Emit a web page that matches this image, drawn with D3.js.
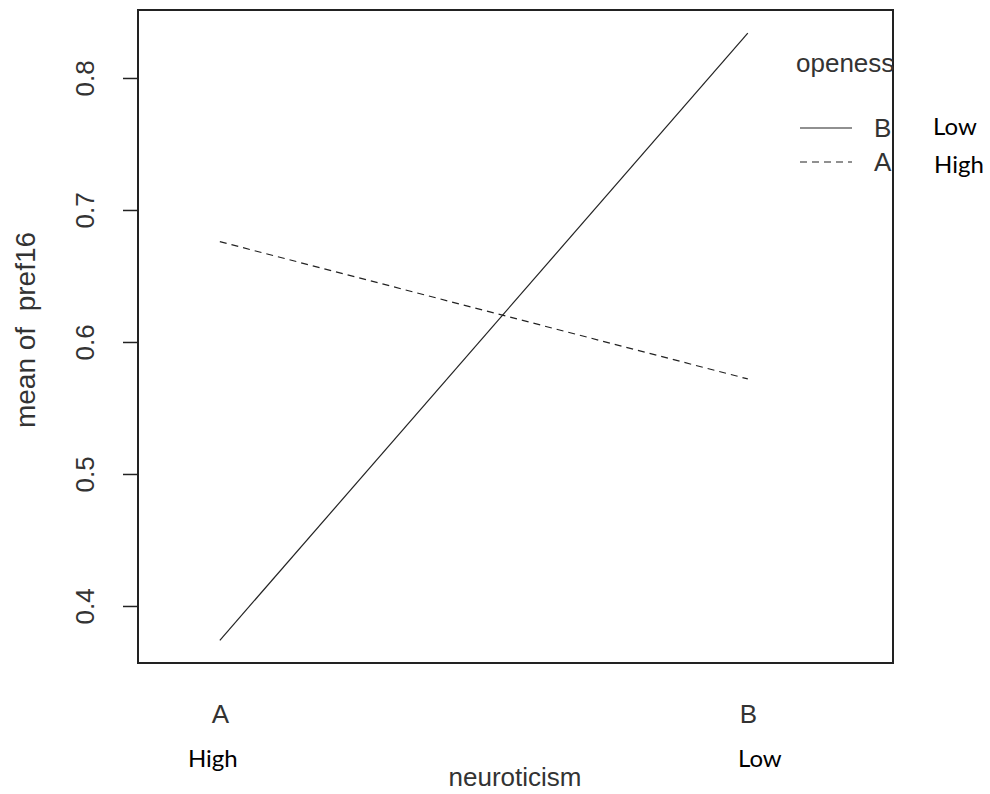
<!DOCTYPE html>
<html>
<head>
<meta charset="utf-8">
<script src="https://cdn.jsdelivr.net/npm/d3@7"></script>
<style>
  body { margin: 0; background: #fff; }
  svg text { font-family: "Liberation Sans", Arial, sans-serif; fill: #333; }
  .note { font-family: Lato, "Open Sans", sans-serif !important; fill: #000 !important; font-weight: 400; }
</style>
</head>
<body>
<svg class="chart" width="990" height="794"></svg>
<script>
// interaction plot: mean of pref16 by neuroticism, one line per openess level

var neuroLevels = ["A", "B"];
var neuroNotes = ["High", "Low"];
var openLevels = ["B", "A"];          // legend order
var openNotes = ["Low", "High"];
var meanOpenB = [0.374, 0.834];
var meanOpenA = [0.676, 0.572];
var yTicks = [0.4, 0.5, 0.6, 0.7, 0.8];

var series = [
  {level: "B", values: meanOpenB, dash: null},
  {level: "A", values: meanOpenA, dash: "7,5"}
];

var svg = d3.select(".chart");
var fs = 26;

// box limits (R pads the x range to leave room for the legend)
var x = d3.scaleLinear().domain([0.845, 2.275]).range([138, 893]);
var y = d3.scaleLinear().domain([0.3568, 0.8515]).range([663, 10]);

// lines
var line = d3.line()
    .x((d, i) => x(i + 1))
    .y(d => y(d));

svg.append("g").selectAll("path")
    .data(series)
    .enter().append("path")
    .attr("d", d => line(d.values))
    .attr("fill", "none")
    .attr("stroke", "#222")
    .attr("stroke-width", 1.2)
    .attr("stroke-dasharray", d => d.dash);

// plot box
svg.append("rect")
    .attr("x", x.range()[0]).attr("y", y.range()[1])
    .attr("width", x.range()[1] - x.range()[0])
    .attr("height", y.range()[0] - y.range()[1])
    .attr("fill", "none").attr("stroke", "#222").attr("stroke-width", 2);

// y axis, labels rotated like base R
var yAxis = svg.append("g")
    .attr("transform", "translate(138,0)")
    .call(d3.axisLeft(y).tickValues(yTicks).tickSize(15).tickFormat(d3.format(".1f")));
yAxis.select(".domain").remove();
yAxis.selectAll(".tick line").attr("stroke", "#222").attr("stroke-width", 1.5);
yAxis.selectAll(".tick text")
    .attr("font-size", fs)
    .attr("transform", "translate(-53,0) rotate(-90)")
    .attr("x", 0).attr("dy", "0.35em")
    .attr("text-anchor", "middle");

// x axis labels (no ticks)
var xAxis = svg.append("g")
    .attr("transform", "translate(0,663)")
    .call(d3.axisBottom(x).tickValues([1, 2]).tickSize(0).tickFormat((d, i) => neuroLevels[i]));
xAxis.select(".domain").remove();
xAxis.selectAll(".tick text").attr("font-size", fs).attr("y", 0).attr("dy", "60");

// handwritten notes under the x labels
svg.append("g").selectAll("text")
    .data(neuroNotes)
    .enter().append("text")
    .attr("class", "note")
    .attr("x", (d, i) => x(i + 1) + (i == 0 ? -7 : 12))
    .attr("y", 767)
    .attr("text-anchor", "middle")
    .attr("font-size", 24)
    .text(d => d);

// axis titles
svg.append("text")
    .attr("x", 515).attr("y", 786)
    .attr("text-anchor", "middle").attr("font-size", fs)
    .text("neuroticism");

svg.append("text")
    .attr("transform", "translate(35,330) rotate(-90)")
    .attr("text-anchor", "middle").attr("font-size", 28)
    .attr("xml:space", "preserve")
    .text("mean of  pref16");

// legend
var legend = svg.append("g");
legend.append("text")
    .attr("x", 796).attr("y", 72).attr("font-size", fs)
    .text("openess");

var rows = legend.selectAll(".row")
    .data(openLevels)
    .enter().append("g")
    .attr("class", "row")
    .attr("transform", (d, i) => "translate(0," + (128 + i * 34) + ")");

rows.append("line")
    .attr("x1", 800).attr("x2", 852)
    .attr("stroke", "#222").attr("stroke-width", 1.2)
    .attr("stroke-dasharray", d => series.find(s => s.level == d).dash);

rows.append("text")
    .attr("x", 874).attr("dy", "0.36em").attr("font-size", fs)
    .text(d => d);

rows.append("text")
    .attr("class", "note")
    .attr("x", (d, i) => i == 0 ? 933 : 934)
    .attr("dy", (d, i) => i == 0 ? "0.3em" : "0.45em")
    .attr("font-size", 24)
    .text((d, i) => openNotes[i]);
</script>
</body>
</html>
